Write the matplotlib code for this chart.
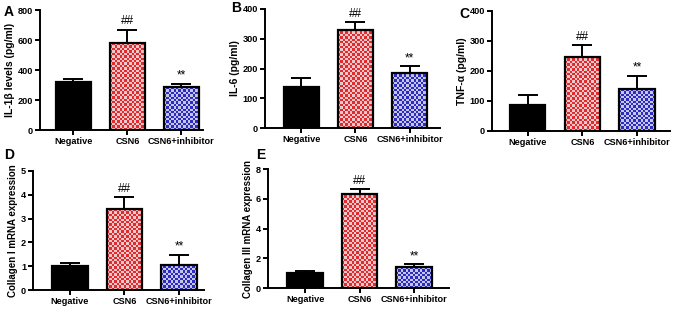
import numpy as np
import matplotlib
matplotlib.use("Agg")
import matplotlib.pyplot as plt
from matplotlib.colors import ListedColormap

plt.rcParams['font.family'] = ['Liberation Sans', 'DejaVu Sans']
plt.rcParams['font.weight'] = 'bold'

categories = ["Negative", "CSN6", "CSN6+inhibitor"]

il1b_mean = [320, 580, 285]
il1b_err = [20, 90, 23]
il6_mean = [137, 330, 185]
il6_err = [31, 25, 22]
tnf_mean = [88, 248, 140]
tnf_err = [32, 39, 45]
col1_mean = [1.0, 3.4, 1.05]
col1_err = [0.12, 0.52, 0.42]
col3_mean = [1.0, 6.35, 1.4]
col3_err = [0.15, 0.3, 0.2]

marks = ["", "##", "**"]

panels = [
    dict(letter="A", mean=il1b_mean, err=il1b_err, ylabel="IL-1β levels (pg/ml)",
         ylim=800, yticks=[0, 200, 400, 600, 800], box=(40, 203, 10, 130),
         xlim=(-0.62, 2.4), letter_pos=(4, 12), yfs=7.5),
    dict(letter="B", mean=il6_mean, err=il6_err, ylabel="IL-6 (pg/ml)",
         ylim=400, yticks=[0, 100, 200, 300, 400], box=(265, 440, 9, 128),
         xlim=(-0.67, 2.56), letter_pos=(231, 8), yfs=7.5),
    dict(letter="C", mean=tnf_mean, err=tnf_err, ylabel="TNF-α (pg/ml)",
         ylim=400, yticks=[0, 100, 200, 300, 400], box=(492, 670, 11, 131),
         xlim=(-0.65, 2.6), letter_pos=(459, 14), yfs=7.5),
    dict(letter="D", mean=col1_mean, err=col1_err, ylabel="Collagen I mRNA expression",
         ylim=5, yticks=[0, 1, 2, 3, 4, 5], box=(33, 204, 171, 290),
         xlim=(-0.68, 2.46), letter_pos=(4, 155), yfs=7.0),
    dict(letter="E", mean=col3_mean, err=col3_err, ylabel="Collagen III mRNA expression",
         ylim=8, yticks=[0, 2, 4, 6, 8], box=(268, 449, 169, 288),
         xlim=(-0.68, 2.64), letter_pos=(256, 155), yfs=7.0),
]

W, H = 674, 309
fig = plt.figure(figsize=(W / 100, H / 100), dpi=100)

red_cmap = ListedColormap(["#e52a2e", "#e9c9cb"])
blue_cmap = ListedColormap(["#2b2bc8", "#c6c6de"])

x = np.arange(len(categories))
bw = 0.65
cell_px = 2.4

for p in panels:
    l, r, t, b = p["box"]
    ax = fig.add_axes([l / W, 1 - b / H, (r - l) / W, (b - t) / H])
    ax.set_xlim(*p["xlim"])
    ax.set_ylim(0, p["ylim"])
    mean = p["mean"]
    err = p["err"]
    bars = ax.bar(x, mean, width=bw, color=["black", "#e52a2e", "#2b2bc8"],
                  edgecolor="none", zorder=2)
    fig.canvas.draw()
    for patch, cmap in zip(list(bars)[1:], [red_cmap, blue_cmap]):
        x0 = patch.get_x()
        x1 = x0 + patch.get_width()
        h = patch.get_height()
        p0 = ax.transData.transform((x0, 0))
        p1 = ax.transData.transform((x1, h))
        nx = max(1, int(round((p1[0] - p0[0]) / cell_px)))
        ny = max(1, int(round((p1[1] - p0[1]) / cell_px)))
        ii, jj = np.indices((ny, nx))
        board = (ii + jj) % 2
        im = ax.imshow(board, cmap=cmap, extent=(x0, x1, 0, h), origin="lower",
                       interpolation="nearest", aspect="auto", zorder=2.5)
        im.set_clip_path(patch)
    ax.bar(x, mean, width=bw, fill=False, edgecolor="black", linewidth=1.6, zorder=3)
    ax.errorbar(x, mean, yerr=[np.zeros(len(err)), err], fmt="none", ecolor="black",
                elinewidth=1.4, capsize=7, capthick=1.4, zorder=1.5)
    for xi, m, e, s in zip(x, mean, err, marks):
        if s:
            ax.annotate(s, (xi, m + e), xytext=(0, 1.5), textcoords="offset points",
                        ha="center", va="bottom", fontsize=8.5, fontweight="normal")
    ax.set_xlim(*p["xlim"])
    ax.set_ylim(0, p["ylim"])
    ax.set_yticks(p["yticks"])
    ax.set_xticks(x)
    ax.set_xticklabels(categories, fontsize=6.6, fontweight="bold")
    for lab in ax.get_yticklabels():
        lab.set_fontsize(6.6)
        lab.set_fontweight("bold")
    ax.set_ylabel(p["ylabel"], fontsize=p["yfs"], fontweight="bold", labelpad=2)
    for s in ["top", "right"]:
        ax.spines[s].set_visible(False)
    for s in ["left", "bottom"]:
        ax.spines[s].set_linewidth(1.4)
    ax.tick_params(axis="both", width=1.4, length=3.5, pad=1.5)
    fig.text(p["letter_pos"][0] / W, 1 - p["letter_pos"][1] / H, p["letter"],
             fontsize=10, fontweight="bold", ha="left", va="center")

fig.savefig("out.png", dpi=100)
